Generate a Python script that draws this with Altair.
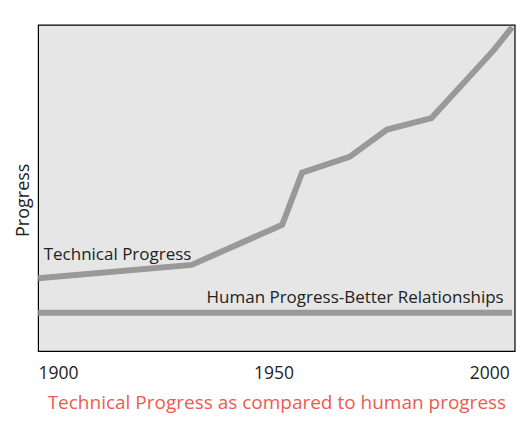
import altair as alt
import pandas as pd

# Technical progress curve (year, value)
tech_years = [1895.4, 1931.0, 1952.0, 1956.6, 1967.6, 1976.3, 1986.6, 2001.1, 2005.3]
tech_values = [22.3, 26.4, 38.7, 54.7, 59.5, 67.9, 71.4, 92.3, 99.3]

# Human progress curve (flat)
human_years = [1895.4, 2005.3]
human_values = [11.7, 11.7]

# Annotations
label_texts = ["Technical Progress", "Human Progress-Better Relationships"]
label_years = [1896.7, 1968.9]
label_values = [29.3, 16.4]
label_aligns = ["left", "center"]

x_ticks = [1900, 1950, 2000]
x_domain = [1895.4, 2005.9]
y_domain = [0, 100]

FONT = "Open Sans"

lines_df = pd.DataFrame(
    {"year": tech_years + human_years,
     "value": tech_values + human_values,
     "series": ["Technical"] * len(tech_years) + ["Human"] * len(human_years)}
)
labels_df = pd.DataFrame(
    {"text": label_texts, "year": label_years, "value": label_values, "align": label_aligns}
)

x_enc = alt.X(
    "year:Q",
    scale=alt.Scale(domain=x_domain, nice=False, zero=False),
    axis=alt.Axis(
        values=x_ticks, format="d", ticks=False, domain=False, grid=False,
        labelFontSize=17.5, labelFont=FONT, labelColor="#222222", labelPadding=14,
        title="Technical Progress as compared to human progress",
        titleFont=FONT, titleFontSize=19, titleFontWeight="normal",
        titleColor="#ee5a50", titlePadding=11,
    ),
)
y_enc = alt.Y(
    "value:Q",
    scale=alt.Scale(domain=y_domain, nice=False),
    axis=alt.Axis(
        labels=False, ticks=False, domain=False, grid=False,
        title="Progress", titleFont=FONT, titleFontSize=18, titleFontWeight="normal",
        titleColor="#222222", titlePadding=6, titleY=175, titleAlign="center",
    ),
)

lines = alt.Chart(lines_df).mark_line(
    color="#999999", strokeWidth=6, strokeCap="butt", strokeJoin="miter", clip=True
).encode(x=x_enc, y=y_enc, detail="series:N")

left_labels = alt.Chart(labels_df[labels_df["align"] == "left"]).mark_text(
    align="left", baseline="middle", font=FONT, fontSize=17, color="#222222"
).encode(x="year:Q", y="value:Q", text="text:N")

center_labels = alt.Chart(labels_df[labels_df["align"] == "center"]).mark_text(
    align="center", baseline="middle", font=FONT, fontSize=17, color="#222222"
).encode(x="year:Q", y="value:Q", text="text:N")

chart = (
    alt.layer(lines, left_labels, center_labels)
    .properties(
        width=476.6,
        height=326.2,
        background="#ffffff",
        autosize=alt.AutoSizeParams(type="none"),
        padding={"left": 30.1, "top": 16.8, "right": 5, "bottom": 70},
    )
    .configure_view(fill="#e6e6e6", stroke="#000000", strokeWidth=1.2)
)

chart.save("out.html", embed_options={"renderer": "svg", "actions": False})
